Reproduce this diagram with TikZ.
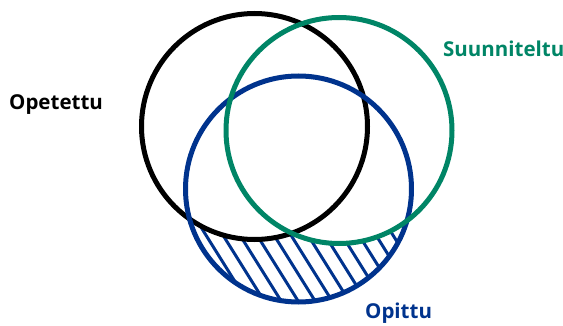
\documentclass[tikz,border=0pt]{standalone}
\usepackage{fontspec}
\setmainfont{Open Sans}
\definecolor{vgreen}{RGB}{0,133,102}
\definecolor{vblue}{RGB}{0,51,141}
\begin{document}
\begin{tikzpicture}[x=1pt,y=-1pt,
  ring/.style={line width=5pt},
  hatchline/.style={vblue,line width=3pt},
  lbl/.style={font=\fontsize{20.5}{24}\selectfont\bfseries,inner sep=0pt,anchor=base west}]
\useasboundingbox (0,0) rectangle (563,326);
% hatching: blue circle minus black and green
\begin{scope}[even odd rule]
  \clip (298.5,189) circle (113);
  \clip (254.5,126.5) circle (113) (-10,-10) rectangle (600,340);
  \clip (339,130.5) circle (113) (-10,-10) rectangle (600,340);
  \foreach \i in {0,...,24}{
    \draw[hatchline] (40+17*\i,160) -- (40+17*\i+100,320);
  }
\end{scope}
\draw[ring,black] (254.5,126.5) circle (113);
\draw[ring,vblue] (298.5,189) circle (113);
\draw[ring,vgreen] (339,130.5) circle (113);
\node[lbl,black] (opetettu) at (9,110) {Opetettu};
\node[lbl,vgreen] (suunniteltu) at (443,57) {Suunniteltu};
\node[lbl,vblue] (opittu) at (365,319) {Opittu};
\end{tikzpicture}
\end{document}
